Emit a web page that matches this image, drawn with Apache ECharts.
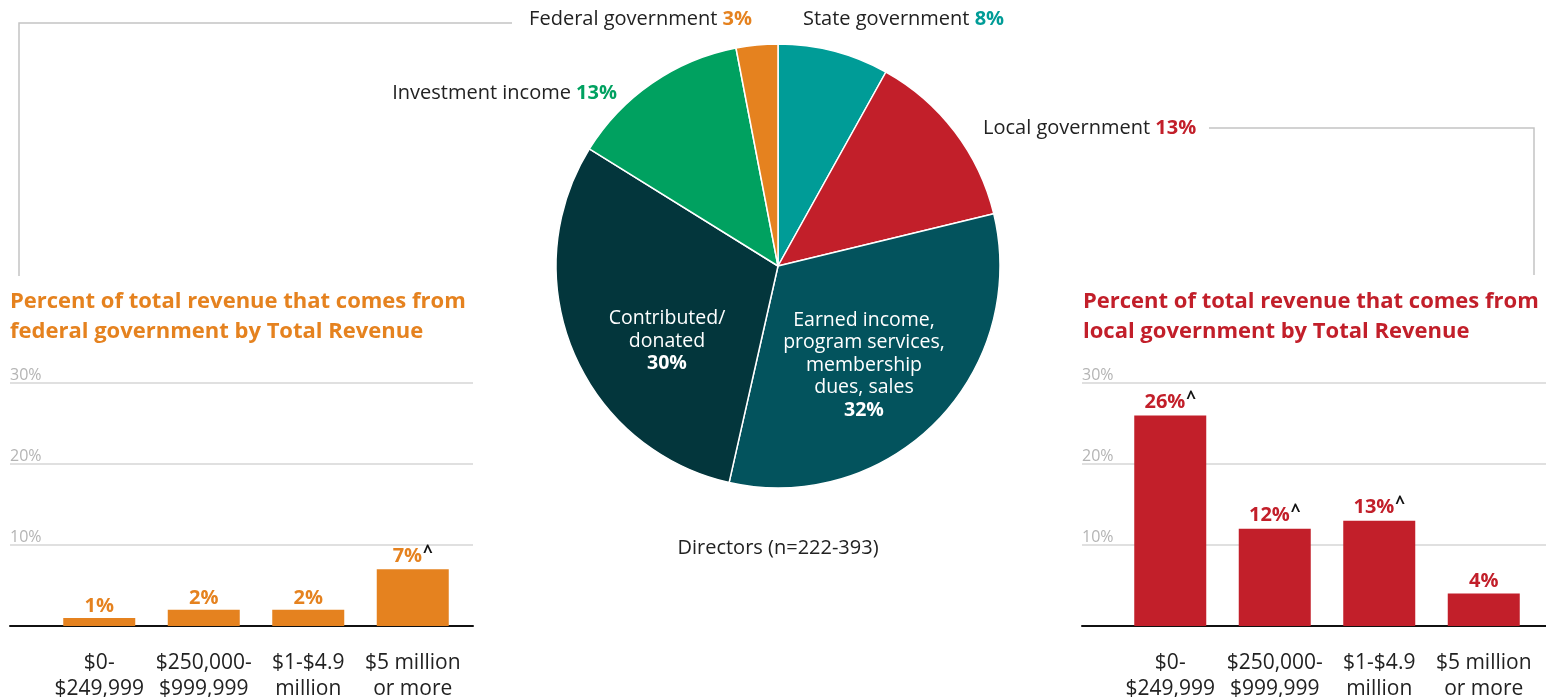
<!DOCTYPE html>
<html>
<head>
<meta charset="utf-8">
<title>Revenue sources</title>
<script src="https://cdn.jsdelivr.net/npm/echarts@6/dist/echarts.min.js"></script>
<style>
  html, body { margin: 0; padding: 0; background: #fff; }
  #chart { width: 1546px; height: 697px; }
</style>
</head>
<body>
<div id="chart"></div>
<script>
// Revenue mix (percent of total revenue), clockwise from 12 o'clock
const pieNames = ['State government', 'Local government', 'Earned income,\nprogram services,\nmembership\ndues, sales', 'Contributed/\ndonated', 'Investment income', 'Federal government'];
const pieValues = [8, 13, 32, 30, 13, 3];

// Bar charts by organisation total revenue
const revenueBands = ['$0-\n$249,999', '$250,000-\n$999,999', '$1-$4.9\nmillion', '$5 million\nor more'];
const federalShare = [1, 2, 2, 7];
const federalNotes = ['', '', '', '^'];
const localShare = [26, 12, 13, 4];
const localNotes = ['^', '^', '^', ''];
const axisTicks = [0, 10, 20, 30];

const federalTitle = 'Percent of total revenue that comes from\nfederal government by Total Revenue';
const localTitle = 'Percent of total revenue that comes from\nlocal government by Total Revenue';
const sampleNote = 'Directors (n=222-393)';

// ---- styling ----
const FONT = '"Open Sans", Lato, sans-serif';
const ORANGE = '#E5821F';
const RED = '#C21F2A';
const pieColors = ['#009C97', RED, '#03535D', '#03363C', '#00A160', ORANGE];
const insideSlices = [2, 3];
// label anchor [x, y, align] for each slice
const pieLabelPos = [
  [803, 19, 'left'],
  [983, 128, 'left'],
  [864, 365, 'center'],
  [667, 341, 'center'],
  [617, 93, 'right'],
  [752, 19, 'right']
];

const chart = echarts.init(document.getElementById('chart'), null, { renderer: 'canvas' });

const pieData = pieNames.map((name, i) => {
  const inside = insideSlices.includes(i);
  return {
    name: name,
    value: pieValues[i],
    itemStyle: { color: pieColors[i] },
    label: inside ? {
      position: 'inside',
      formatter: '{n|' + name + '}\n{b|' + pieValues[i] + '%}',
      rich: {
        n: { color: '#fff', fontSize: 19.5, lineHeight: 22.5, fontFamily: FONT, align: 'center' },
        b: { color: '#fff', fontSize: 19.5, lineHeight: 22.5, fontWeight: 'bold', fontFamily: FONT, align: 'center' }
      }
    } : {
      position: 'outside',
      formatter: '{n|' + name + ' }{b|' + pieValues[i] + '%}',
      rich: {
        n: { color: '#222', fontSize: 20, fontFamily: FONT },
        b: { color: pieColors[i], fontSize: 20, fontWeight: 'bold', fontFamily: FONT }
      }
    },
    labelLine: { show: false }
  };
});

function barLabel(notes, color) {
  return {
    show: true,
    position: 'top',
    distance: 2,
    formatter: p => '{v|' + p.value + '%}' + (notes[p.dataIndex] ? '{c|' + notes[p.dataIndex] + '}' : ''),
    rich: {
      v: { color: color, fontSize: 20, fontWeight: 'bold', fontFamily: FONT },
      c: { color: '#111', fontSize: 17, fontWeight: 'bold', fontFamily: FONT, padding: [0, 0, 6, 1] }
    }
  };
}

const gridTop = 383, gridH = 243;

function backgroundAxes(gi) {
  return {
    x: {
      gridIndex: gi, type: 'category', data: [''],
      axisLine: { show: true, lineStyle: { color: '#111', width: 2 } },
      axisTick: { show: false }, axisLabel: { show: false }
    },
    y: {
      gridIndex: gi, type: 'value', min: axisTicks[0], max: axisTicks[axisTicks.length - 1], interval: axisTicks[1] - axisTicks[0],
      axisLine: { show: false }, axisTick: { show: false },
      splitLine: { lineStyle: { color: '#d6d6d6', width: 1.5 } },
      axisLabel: {
        inside: true, margin: 0, color: '#b4b4b4', fontSize: 16, fontFamily: FONT,
        verticalAlign: 'bottom', padding: [0, 0, 0, 0], showMinLabel: false,
        formatter: '{value}%'
      }
    }
  };
}

function barAxes(gi) {
  return {
    x: {
      gridIndex: gi, type: 'category', data: revenueBands,
      axisLine: { show: false }, axisTick: { show: false },
      axisLabel: { color: '#222', fontSize: 21, lineHeight: 26, fontFamily: FONT, margin: 24, interval: 0 }
    },
    y: {
      gridIndex: gi, type: 'value', min: axisTicks[0], max: axisTicks[axisTicks.length - 1],
      show: false, splitLine: { show: false }
    }
  };
}

const bgL = backgroundAxes(0), barsL = barAxes(1), bgR = backgroundAxes(2), barsR = barAxes(3);

const gridBase = { top: gridTop, height: gridH, containLabel: false, outerBoundsMode: 'none' };

const option = {
  animation: false,
  backgroundColor: '#fff',
  textStyle: { fontFamily: FONT },
  grid: [
    Object.assign({ left: 10, width: 463 }, gridBase),
    Object.assign({ left: 47, width: 418 }, gridBase),
    Object.assign({ left: 1082, width: 464 }, gridBase),
    Object.assign({ left: 1118, width: 418 }, gridBase)
  ],
  xAxis: [bgL.x, barsL.x, bgR.x, barsR.x],
  yAxis: [bgL.y, barsL.y, bgR.y, barsR.y],
  series: [
    {
      type: 'pie',
      center: [778, 266],
      radius: 222,
      startAngle: 90,
      clockwise: true,
      avoidLabelOverlap: false,
      itemStyle: { borderColor: '#fff', borderWidth: 1.5 },
      labelLayout: params => {
        const p = pieLabelPos[params.dataIndex];
        return { x: p[0], y: p[1], align: p[2], verticalAlign: 'middle' };
      },
      emphasis: { disabled: true },
      data: pieData
    },
    {
      type: 'bar', xAxisIndex: 1, yAxisIndex: 1,
      data: federalShare, barWidth: 72,
      itemStyle: { color: ORANGE },
      label: barLabel(federalNotes, ORANGE),
      z: 3
    },
    {
      type: 'bar', xAxisIndex: 3, yAxisIndex: 3,
      data: localShare, barWidth: 72,
      itemStyle: { color: RED },
      label: barLabel(localNotes, RED),
      z: 3
    }
  ],
  graphic: [
    {
      type: 'polyline', silent: true,
      shape: { points: [[19, 276], [19, 23], [512, 23]] },
      style: { stroke: '#c4c4c4', lineWidth: 1.5, fill: null }
    },
    {
      type: 'polyline', silent: true,
      shape: { points: [[1209, 128], [1534, 128], [1534, 275]] },
      style: { stroke: '#c4c4c4', lineWidth: 1.5, fill: null }
    },
    {
      type: 'text', left: 10, top: 287,
      style: { text: federalTitle, fill: ORANGE, font: 'bold 22px ' + FONT, lineHeight: 30 }
    },
    {
      type: 'text', left: 1083, top: 287,
      style: { text: localTitle, fill: RED, font: 'bold 22px ' + FONT, lineHeight: 30 }
    },
    {
      type: 'text', x: 778, y: 548,
      style: { text: sampleNote, fill: '#222', font: '20px ' + FONT, textAlign: 'center', textVerticalAlign: 'middle' }
    }
  ]
};

chart.setOption(option);
</script>
</body>
</html>
